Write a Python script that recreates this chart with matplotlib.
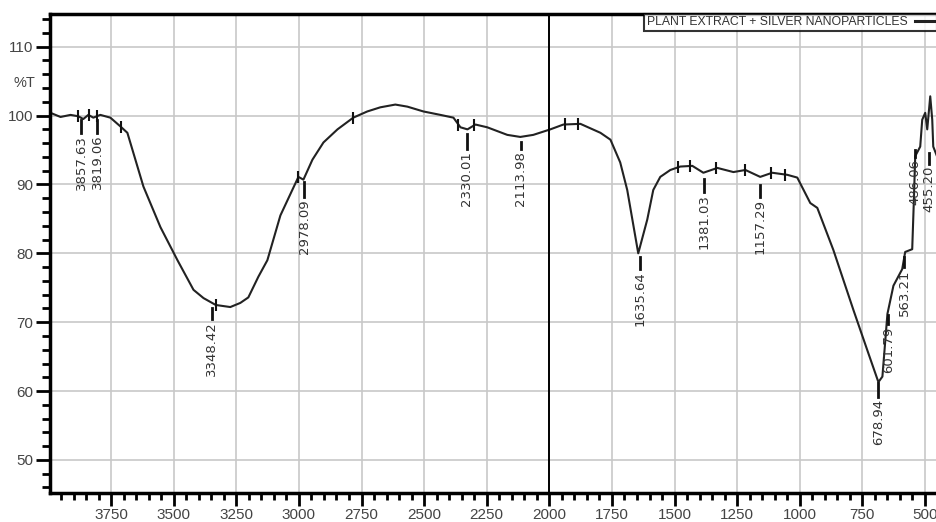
import numpy as np
import matplotlib
matplotlib.use("Agg")
import matplotlib.pyplot as plt
from matplotlib.ticker import MultipleLocator

plt.rcParams['font.family'] = ['Liberation Sans', 'DejaVu Sans']

# FTIR spectrum (wavenumber cm-1, %T)
wavenumber = [3992, 3952, 3912, 3881, 3861, 3841, 3821, 3793, 3753, 3712, 3685, 3621,
              3553, 3485, 3421, 3381, 3332, 3274, 3234, 3202, 3162, 3126, 3074, 3002,
              2982, 2946, 2902, 2846, 2783, 2727, 2675, 2615, 2567, 2503, 2435, 2383,
              2355, 2327, 2295, 2248, 2168, 2116, 2064, 1996, 1944, 1876, 1796, 1756,
              1717, 1689, 1645, 1609, 1585, 1557, 1517, 1477, 1429, 1385, 1329, 1265,
              1217, 1158, 1110, 1050, 1010, 958, 930, 866, 786, 730, 686, 670, 650,
              626, 591, 579, 551, 545, 539, 519, 511, 499, 491, 479, 471, 467, 451]
transmittance = [100.4, 99.8, 100.1, 99.9, 99.5, 100.1, 99.7, 100.1, 99.7, 98.4, 97.5, 89.7,
                 83.8, 79.0, 74.7, 73.5, 72.5, 72.2, 72.8, 73.6, 76.6, 79.0, 85.5, 91.1,
                 90.7, 93.6, 96.1, 98.0, 99.7, 100.6, 101.2, 101.6, 101.3, 100.6, 100.1, 99.7,
                 98.3, 98.0, 98.7, 98.3, 97.2, 96.9, 97.2, 98.0, 98.7, 98.8, 97.5, 96.5,
                 93.2, 89.2, 80.0, 84.9, 89.2, 91.1, 92.1, 92.6, 92.7, 91.7, 92.4, 91.8,
                 92.1, 91.1, 91.7, 91.4, 91.0, 87.3, 86.6, 80.5, 71.8, 65.9, 61.3, 62.1, 71.2,
                 75.3, 77.7, 80.2, 80.6, 87.0, 94.1, 95.5, 99.4, 100.4, 98.0, 102.8, 99.4, 95.5, 94.0]

# small marks the software puts on the trace
mark_wn = [3881, 3837, 3805, 3712, 3332, 3002, 2783, 2363, 2300, 1936, 1884,
           1485, 1437, 1333, 1217, 1113, 1057]

# peak labels: text, where the label sits, top of leader, top of text
peak_labels = ["3857.63", "3819.06", "3348.42", "2978.09", "2330.01", "2113.98", "1635.64",
               "1381.03", "1157.29", "678.94", "601.79", "563.21", "486.06", "455.20"]
peak_pos = [3870, 3806, 3348, 2978, 2330, 2114, 1636, 1381, 1157, 686, 646, 583, 539, 483]
lead_top = [99.3, 99.3, 72.0, 90.3, 97.3, 96.2, 79.5, 90.8, 89.9, 61.2, 71.0, 79.5, 95.0, 94.5]
text_top = [97.2, 97.2, 70.2, 87.9, 94.9, 94.9, 77.4, 88.6, 87.9, 58.9, 69.4, 77.7, 93.7, 92.7]

legend_label = "PLANT EXTRACT + SILVER NANOPARTICLES"

fig = plt.figure(figsize=(9.37, 5.22), dpi=100)
ax = fig.add_axes([50 / 937, 29 / 522, 887 / 937, 479 / 522])

ax.plot(wavenumber, transmittance, color="#222222", lw=1.5, label=legend_label)

wn_inc = wavenumber[::-1]
t_inc = transmittance[::-1]
ax.plot(mark_wn, np.interp(mark_wn, wn_inc, t_inc), ls="none", marker="|",
        ms=9, mew=1.5, color="#111111")

for lab, px, lt, tt in zip(peak_labels, peak_pos, lead_top, text_top):
    ax.plot([px, px], [lt, tt + 0.3], color="#111111", lw=2)
    ax.text(px, tt, lab, rotation=90, ha="center", va="top", fontsize=9.5,
            color="#333333", family=["DejaVu Sans"])

ax.axvline(2000, color="black", lw=1.4)

ax.set_xlim(3994, 452)
ax.set_ylim(45.2, 114.75)
ax.xaxis.set_major_locator(MultipleLocator(250))
ax.xaxis.set_minor_locator(MultipleLocator(50))
ax.yaxis.set_major_locator(MultipleLocator(10))
ax.yaxis.set_minor_locator(MultipleLocator(2))
ax.set_xticks(np.arange(500, 3751, 250))
ax.set_yticks(np.arange(50, 111, 10))
ax.grid(True, which="major", color="#c8c8c8", lw=1.2)
ax.set_axisbelow(True)

ax.tick_params(axis="y", which="major", direction="out", length=10, width=2, pad=2,
               labelsize=11, labelcolor="#444444")
ax.tick_params(axis="y", which="minor", direction="out", length=5.5, width=2)
ax.tick_params(axis="x", which="major", direction="out", length=9, width=2, pad=2,
               labelsize=11, labelcolor="#444444")
ax.tick_params(axis="x", which="minor", direction="out", length=5, width=2)

for side in ["left", "bottom", "top"]:
    ax.spines[side].set_linewidth(2.5)
    ax.spines[side].set_color("black")
ax.spines["right"].set_visible(False)

fig.text(14 / 937, 1 - 83 / 522, "%T", fontsize=10.5, color="#444444", va="center")

leg = ax.legend(loc="upper right", markerfirst=False, frameon=True, fancybox=False,
                borderaxespad=0, borderpad=0.2, handlelength=1.6, handletextpad=0.6,
                fontsize=8.8, labelcolor="#333333")
leg.get_frame().set_edgecolor("black")
leg.get_frame().set_linewidth(1.5)
leg.get_lines()[0].set_linewidth(2.2)

fig.savefig("out.png", dpi=100)
